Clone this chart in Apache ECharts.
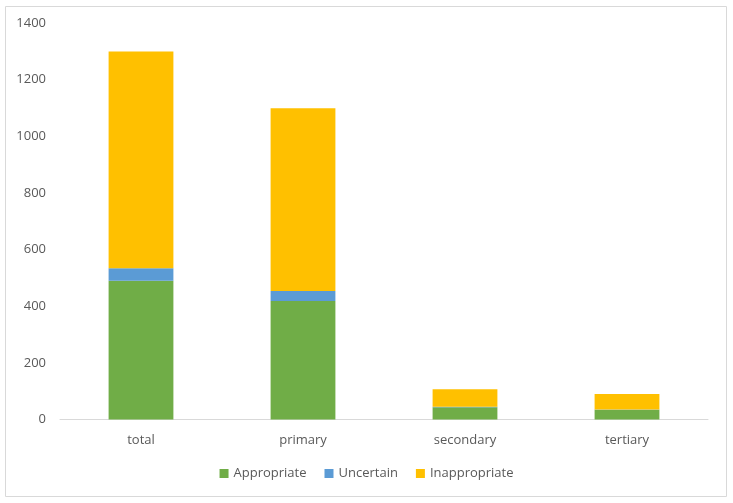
<!DOCTYPE html>
<html>
<head>
<meta charset="utf-8">
<script src="https://cdn.jsdelivr.net/npm/echarts@6/dist/echarts.min.js"></script>
<style>html,body{margin:0;padding:0;background:#fff;}#c{width:733px;height:503px;}</style>
</head>
<body>
<div id="c"></div>
<script>
var categories = ['total', 'primary', 'secondary', 'tertiary'];
var appropriate = [490, 418, 43, 34];
var uncertain = [44, 36, 2, 1];
var inappropriate = [765, 645, 62, 55];
var yTicks = [0, 200, 400, 600, 800, 1000, 1200, 1400];

var chart = echarts.init(document.getElementById('c'), null, {renderer: 'canvas'});
var font = '"Open Sans", "Liberation Sans", sans-serif';
function mk(name, data, color) {
  return {name: name, type: 'bar', stack: 's', data: data, barWidth: '40%',
    itemStyle: {color: color}, emphasis: {disabled: true}};
}
chart.setOption({
  animation: false,
  graphic: [{type: 'rect', shape: {x: 5.5, y: 6.5, width: 721, height: 490},
    style: {fill: 'none', stroke: '#d9d9d9', lineWidth: 1}, silent: true}],
  grid: {left: 60, right: 25, top: 23, bottom: 83.5},
  legend: {bottom: 18, left: 'center', itemWidth: 9, itemHeight: 9, itemGap: 18,
    icon: 'rect', textStyle: {color: '#595959', fontSize: 13, fontFamily: font},
    data: ['Appropriate', 'Uncertain', 'Inappropriate']},
  xAxis: {type: 'category', data: categories,
    axisLine: {lineStyle: {color: '#d9d9d9'}}, axisTick: {show: false},
    axisLabel: {color: '#595959', fontSize: 13, fontFamily: font, margin: 14}},
  yAxis: {type: 'value', min: yTicks[0], max: yTicks[yTicks.length - 1], interval: 200,
    axisLine: {show: false}, axisTick: {show: false}, splitLine: {show: false},
    axisLabel: {color: '#595959', fontSize: 13, fontFamily: font, margin: 14,
      formatter: function (v) { return String(v); }}},
  series: [
    mk('Appropriate', appropriate, '#70ad47'),
    mk('Uncertain', uncertain, '#5b9bd5'),
    mk('Inappropriate', inappropriate, '#ffc000')
  ]
});
</script>
</body>
</html>
